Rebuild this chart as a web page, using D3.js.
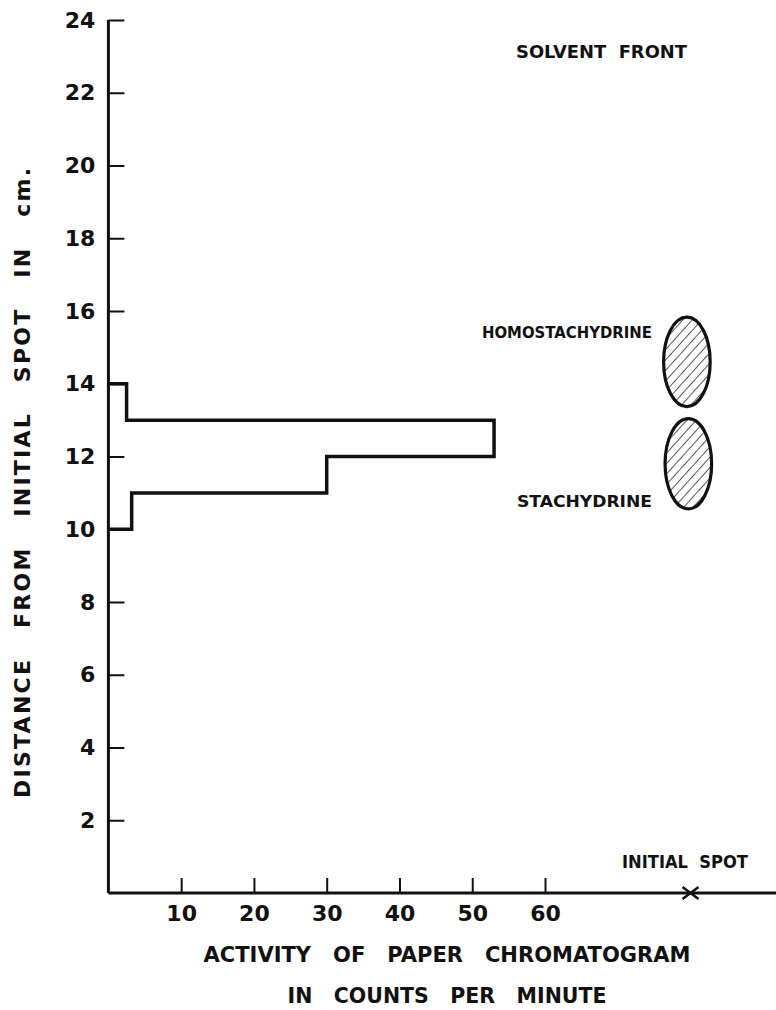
<!DOCTYPE html>
<html>
<head>
<meta charset="utf-8">
<script src="https://cdn.jsdelivr.net/npm/d3@7"></script>
<style>
  html, body { margin: 0; padding: 0; background: #fff; }
  svg { display: block; }
  text { font-family: "DejaVu Sans", sans-serif; font-weight: bold; fill: #111; }
</style>
</head>
<body>
<svg id="chart" width="776" height="1010"></svg>
<script>
// ── Data ─────────────────────────────────────────────────────────────────────
const yTicks = [2, 4, 6, 8, 10, 12, 14, 16, 18, 20, 22, 24];
const xTicks = [10, 20, 30, 40, 50, 60];

// activity (counts/min) per 1 cm band, band starts at binLow
const binLow = [10, 11, 12, 13];
const counts = [3.2, 30, 53, 2.5];

// reference spots, in chart units (x in counts, y in cm)
const spotNames = ["HOMOSTACHYDRINE", "STACHYDRINE"];
const spotCx = [79.5, 79.7];
const spotCy = [14.6, 11.8];
const spotRx = [3.2, 3.2];
const spotRy = [1.23, 1.24];

const initialSpot = 80;
const yTitle = "DISTANCE   FROM   INITIAL   SPOT   IN   cm.";
const xTitle1 = "ACTIVITY   OF   PAPER   CHROMATOGRAM";
const xTitle2 = "IN   COUNTS   PER   MINUTE";

// ── Scales ───────────────────────────────────────────────────────────────────
const svg = d3.select('#chart');
const W = 776;
const x = d3.scaleLinear().domain([0, 60]).range([108.4, 545]);
const y = d3.scaleLinear().domain([0, 24]).range([893, 20]);

// ── Axes ─────────────────────────────────────────────────────────────────────
const yAxis = d3.axisLeft(y)
	.tickValues(yTicks)
	.tickSizeInner(-16)
	.tickSizeOuter(0)
	.tickPadding(13)
	.tickFormat(d3.format('d'));

const yG = svg.append('g')
	.attr('transform', `translate(${x(0)},0)`)
	.call(yAxis);
yG.select('.domain').attr('stroke', '#111').attr('stroke-width', 3);
yG.selectAll('.tick line').attr('stroke', '#111').attr('stroke-width', 2);
yG.selectAll('.tick text')
	.attr('font-size', 22)
	.attr('font-family', '"DejaVu Sans", sans-serif')
	.attr('font-weight', 'bold')
	.attr('fill', '#111');

// y axis domain must reach the x axis line
yG.select('.domain').attr('d', `M0,${y(0)}V${y(24)}`);

const xAxis = d3.axisBottom(x)
	.tickValues(xTicks)
	.tickSizeInner(-15)
	.tickSizeOuter(0)
	.tickPadding(10)
	.tickFormat(d3.format('d'));

const xG = svg.append('g')
	.attr('transform', `translate(0,${y(0)})`)
	.call(xAxis);
xG.select('.domain').attr('d', `M${x(0)},0H${W}`)
	.attr('stroke', '#111').attr('stroke-width', 3);
xG.selectAll('.tick line').attr('stroke', '#111').attr('stroke-width', 2);
xG.selectAll('.tick text')
	.attr('y', 28)
	.attr('dy', 0)
	.attr('font-size', 22)
	.attr('font-family', '"DejaVu Sans", sans-serif')
	.attr('font-weight', 'bold')
	.attr('fill', '#111');

// ── Histogram outline ────────────────────────────────────────────────────────
const pts = [[0, binLow[0]]];
binLow.forEach((b, i) => {
	pts.push([counts[i], b]);
	pts.push([counts[i], b + 1]);
});
pts.push([0, binLow[binLow.length - 1] + 1]);

svg.append('path')
	.attr('d', d3.line().x(d => x(d[0])).y(d => y(d[1]))(pts))
	.attr('fill', 'none')
	.attr('stroke', '#111')
	.attr('stroke-width', 3.5)
	.attr('stroke-linejoin', 'miter');

// ── Spots ────────────────────────────────────────────────────────────────────
const defs = svg.append('defs');
const pat = defs.append('pattern')
	.attr('id', 'hatch')
	.attr('patternUnits', 'userSpaceOnUse')
	.attr('width', 7).attr('height', 7)
	.attr('patternTransform', 'rotate(42)');
pat.append('line')
	.attr('x1', 0).attr('y1', 0).attr('x2', 0).attr('y2', 7)
	.attr('stroke', '#111').attr('stroke-width', 1.4);

const pxPerX = x(1) - x(0);
const pxPerY = y(0) - y(1);

const spotG = svg.selectAll('.spot')
	.data(spotNames.map((n, i) => ({ name: n, cx: spotCx[i], cy: spotCy[i], rx: spotRx[i], ry: spotRy[i] })))
	.enter().append('g').attr('class', 'spot');

spotG.append('ellipse')
	.attr('cx', d => x(d.cx)).attr('cy', d => y(d.cy))
	.attr('rx', d => d.rx * pxPerX).attr('ry', d => d.ry * pxPerY)
	.attr('fill', 'url(#hatch)')
	.attr('stroke', '#111')
	.attr('stroke-width', 3.2);

// labels
const labelEnd = 652;
svg.append('text')
	.attr('x', labelEnd).attr('y', 338)
	.attr('text-anchor', 'end')
	.attr('font-size', 16)
	.attr('textLength', 170).attr('lengthAdjust', 'spacingAndGlyphs')
	.text(spotNames[0]);
svg.append('text')
	.attr('x', labelEnd).attr('y', 507)
	.attr('text-anchor', 'end')
	.attr('font-size', 16)
	.attr('textLength', 135).attr('lengthAdjust', 'spacingAndGlyphs')
	.text(spotNames[1]);

svg.append('text')
	.attr('x', 516).attr('y', 58)
	.attr('font-size', 17)
	.attr('textLength', 171).attr('lengthAdjust', 'spacingAndGlyphs')
	.style('white-space', 'pre')
	.text('SOLVENT  FRONT');

svg.append('text')
	.attr('x', 622).attr('y', 868)
	.attr('font-size', 17)
	.attr('textLength', 126).attr('lengthAdjust', 'spacingAndGlyphs')
	.style('white-space', 'pre')
	.text('INITIAL  SPOT');

// initial spot cross
const cx0 = x(initialSpot), cy0 = y(0);
svg.append('path')
	.attr('d', `M${cx0 - 8},${cy0 - 6}L${cx0 + 8},${cy0 + 6}M${cx0 - 8},${cy0 + 6}L${cx0 + 8},${cy0 - 6}`)
	.attr('stroke', '#111').attr('stroke-width', 2.5);

// ── Titles ───────────────────────────────────────────────────────────────────
svg.append('text')
	.attr('transform', 'translate(30,483) rotate(-90)')
	.attr('text-anchor', 'middle')
	.attr('font-size', 22)
	.attr('textLength', 630).attr('lengthAdjust', 'spacing')
	.style('white-space', 'pre')
	.text(yTitle);

svg.append('text')
	.attr('x', 447).attr('y', 962)
	.attr('text-anchor', 'middle')
	.attr('font-size', 22)
	.attr('textLength', 487).attr('lengthAdjust', 'spacingAndGlyphs')
	.style('white-space', 'pre')
	.text(xTitle1);

svg.append('text')
	.attr('x', 447).attr('y', 1003)
	.attr('text-anchor', 'middle')
	.attr('font-size', 22)
	.attr('textLength', 319).attr('lengthAdjust', 'spacingAndGlyphs')
	.style('white-space', 'pre')
	.text(xTitle2);
</script>
</body>
</html>
